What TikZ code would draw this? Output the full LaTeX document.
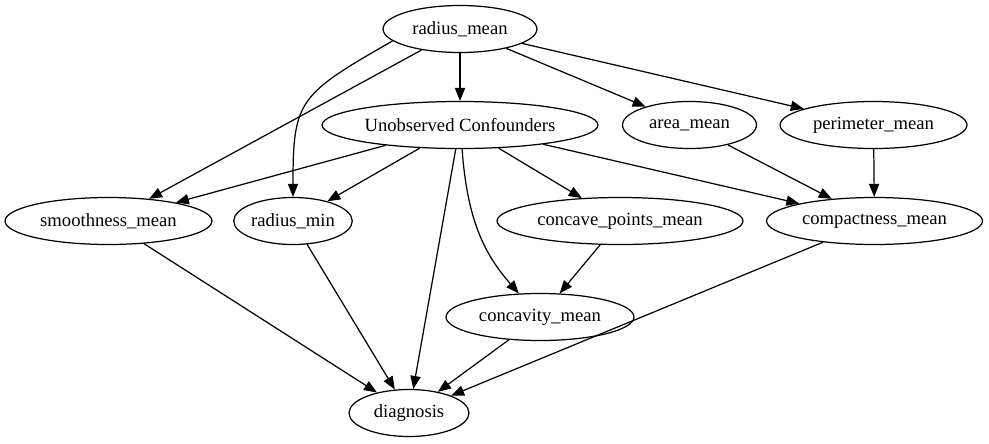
\documentclass[tikz,border=0pt]{standalone}
\usepackage{fontspec}
\setmainfont{Liberation Serif}
\usepackage{tikz}
\usetikzlibrary{shapes.geometric,arrows.meta}

\begin{document}
\begin{tikzpicture}[x=0.02cm,y=0.02cm,line width=0.7pt,
	>={Triangle[length=7.4pt,width=5.8pt]},
	var/.style={ellipse,draw,inner sep=0pt,minimum height=0.94cm,
		font=\fontsize{10.6}{12}\selectfont}]
	\useasboundingbox (0,0) rectangle (989,-443);

	\node[var,minimum width=3.08cm] (RM) at (460,-29) {radius\_mean};

	\node[var,minimum width=5.52cm] (UC) at (460,-125) {Unobserved Confounders};
	\node[var,minimum width=2.68cm] (AM) at (689.5,-125) {area\_mean};
	\node[var,minimum width=3.74cm] (PM) at (873.5,-125) {perimeter\_mean};

	\node[var,minimum width=4.14cm] (SM) at (108.5,-221) {smoothness\_mean};
	\node[var,minimum width=2.28cm] (RN) at (293,-221) {radius\_min};
	\node[var,minimum width=4.92cm] (CP) at (620,-221) {concave\_points\_mean};
	\node[var,minimum width=4.32cm] (CM) at (874.5,-221) {compactness\_mean};

	\node[var,minimum width=3.76cm] (CV) at (540,-317) {concavity\_mean};

	\node[var,minimum width=2.40cm] (DG) at (409,-413) {diagnosis};

	% from radius_mean
	\draw[->] (RM) -- (UC);
	\draw[->] (RM) -- (AM);
	\draw[->] (RM) -- (PM);
	\draw[->] (RM) -- (SM);
	\draw[->] (RM.190) .. controls +(-94,-54) and +(0,97) .. (RN.north);

	% from the confounders
	\draw[->] (UC) -- (SM);
	\draw[->] (UC) -- (RN);
	\draw[->] (UC) -- (CP);
	\draw[->] (UC) -- (CM);
	\draw[->] (UC.275) .. controls +(5,-70) and +(-35,40) .. (CV.132);
	\draw[->] (UC) -- (DG);

	\draw[->] (AM) -- (CM);
	\draw[->] (PM) -- (CM);
	\draw[->] (CP) -- (CV);

	% into diagnosis
	\draw[->] (SM) -- (DG);
	\draw[->] (RN) -- (DG);
	\draw[->] (CV) -- (DG);
	\draw[->] (CM) -- (DG);
\end{tikzpicture}
\end{document}
